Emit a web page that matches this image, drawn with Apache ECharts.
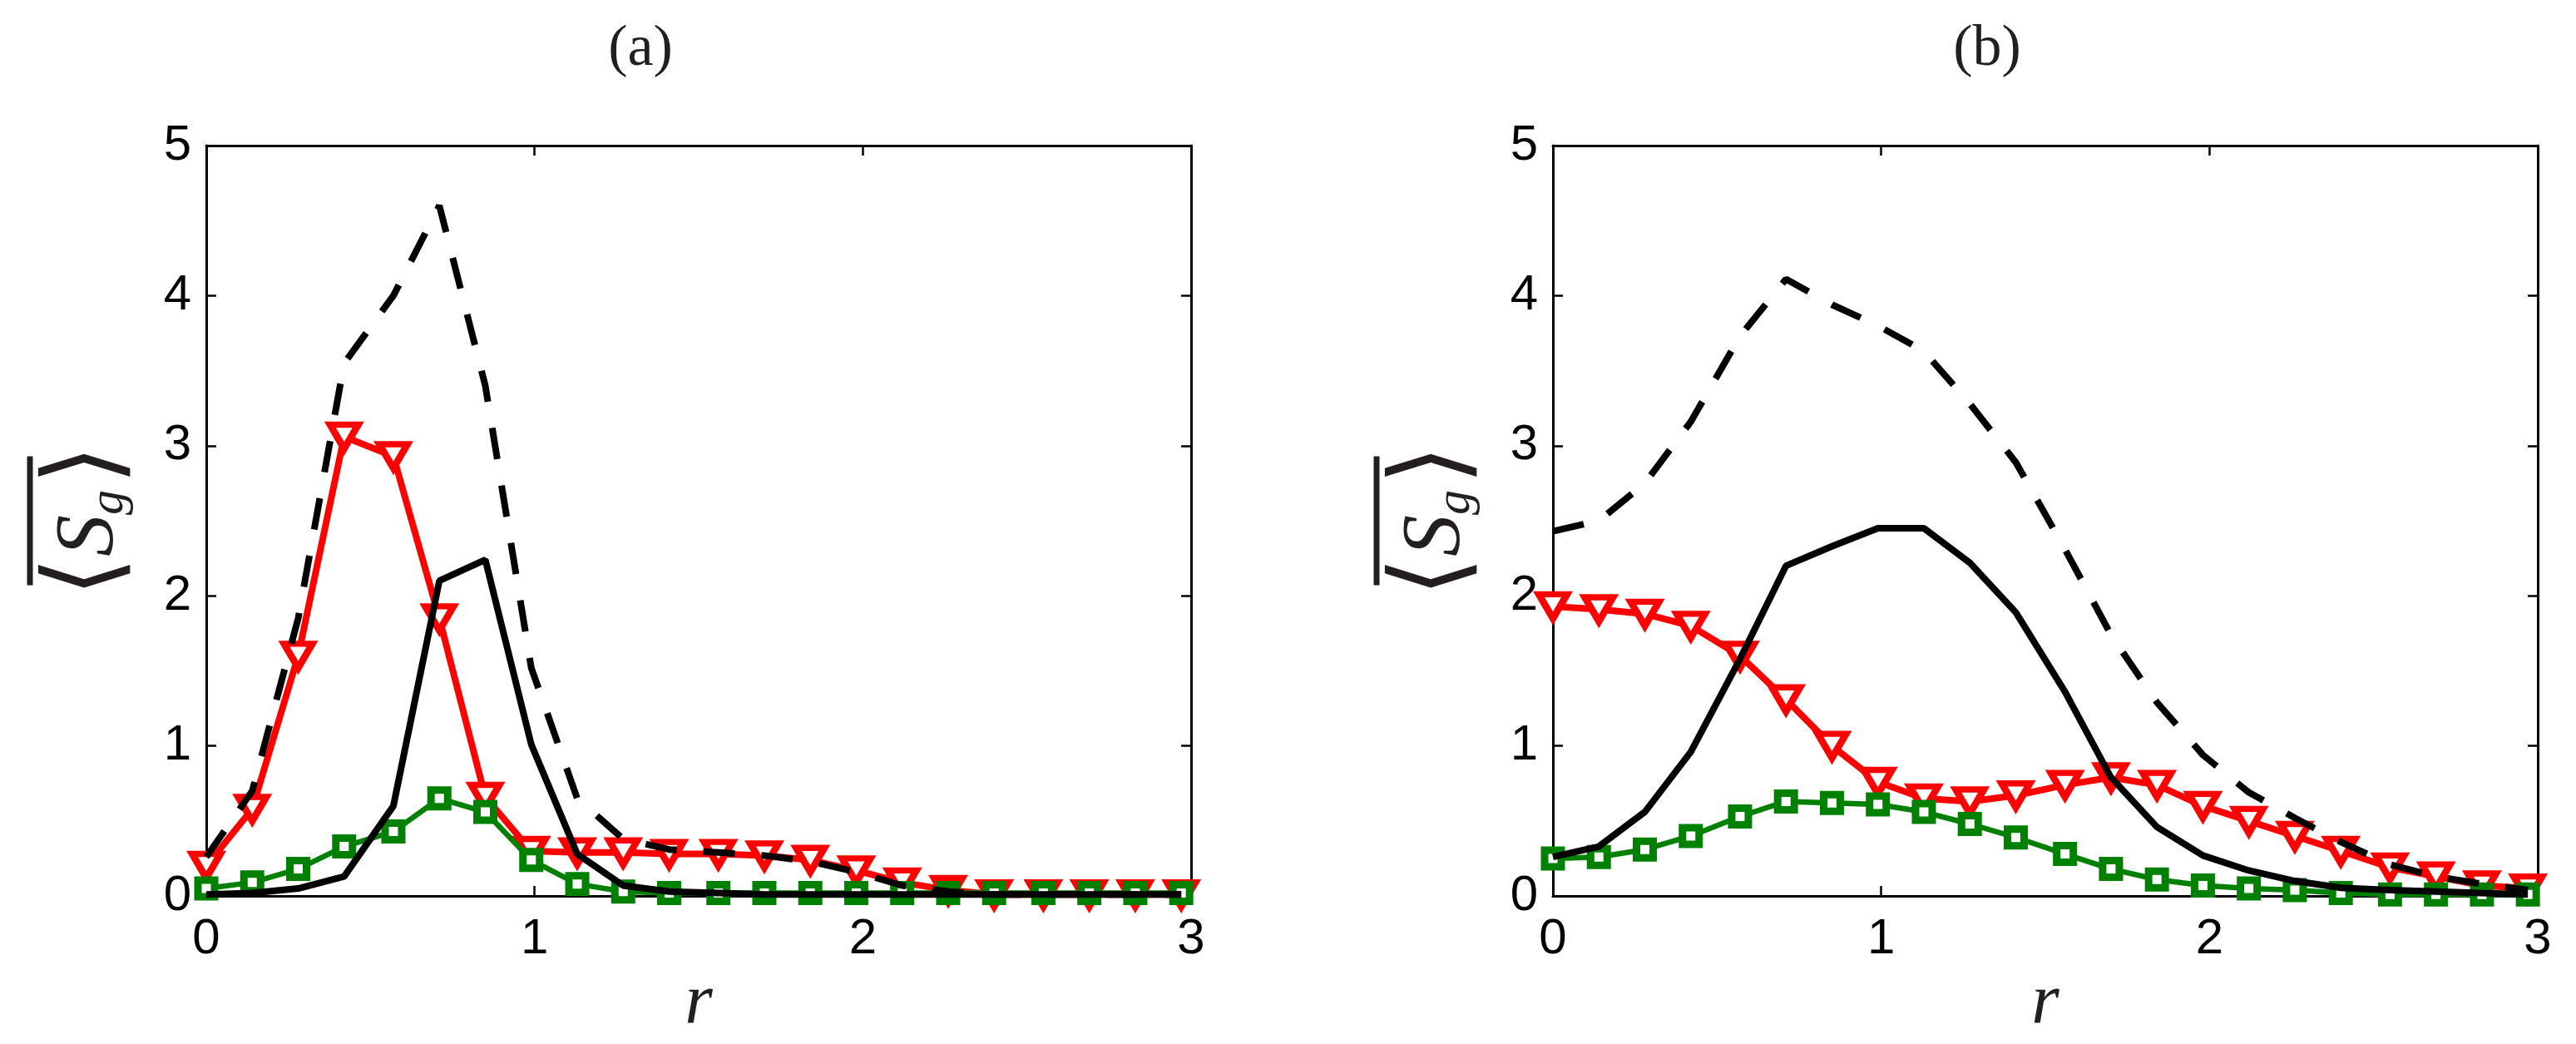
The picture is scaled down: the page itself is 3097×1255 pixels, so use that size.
<!DOCTYPE html>
<html>
<head>
<meta charset="utf-8">
<title>Sg profiles</title>
<script src="https://cdn.jsdelivr.net/npm/echarts/dist/echarts.min.js"></script>
<style>
    html, body { margin: 0; padding: 0; background: #fff; }
    #main { width: 3097px; height: 1255px; }
</style>
</head>
<body>
<div id="main"></div>
<script>
    // r 网格点（两幅图共用）
    const rValues = [0, 0.14, 0.28, 0.42, 0.57, 0.71, 0.85, 0.99, 1.13, 1.27, 1.41,
                     1.56, 1.70, 1.84, 1.98, 2.12, 2.26, 2.40, 2.55, 2.69, 2.83, 2.97];

    // 坐标轴刻度
    const xTicks = [0, 1, 2, 3];
    const yTicks = [0, 1, 2, 3, 4, 5];
    const panelTitles = ['(a)', '(b)'];

    // (a) 图数据
    const redA = [0.20, 0.58, 1.60, 3.06, 2.93, 1.85, 0.66, 0.30, 0.29, 0.29, 0.28,
                  0.28, 0.27, 0.24, 0.17, 0.09, 0.04, 0.01, 0.01, 0.01, 0.01, 0.01];
    const greenA = [0.05, 0.09, 0.18, 0.33, 0.43, 0.65, 0.56, 0.24, 0.08, 0.03, 0.02,
                    0.02, 0.02, 0.02, 0.02, 0.02, 0.02, 0.02, 0.02, 0.02, 0.02, 0.02];
    const solidA = [0.01, 0.02, 0.05, 0.13, 0.60, 2.10, 2.24, 1.01, 0.28, 0.07, 0.03,
                    0.02, 0.01, 0.01, 0.01, 0.01, 0.01, 0.01, 0.01, 0.01, 0.01, 0.01];
    const dashA = [0.26, 0.70, 1.85, 3.55, 4.00, 4.60, 3.40, 1.52, 0.65, 0.38, 0.31,
                   0.29, 0.27, 0.23, 0.16, 0.07, 0.03, 0.01, 0.01, 0.01, 0.01, 0.01];

    // (b) 图数据
    const redB = [1.93, 1.91, 1.88, 1.80, 1.60, 1.31, 1.00, 0.76, 0.65, 0.63, 0.67,
                  0.74, 0.79, 0.74, 0.60, 0.50, 0.40, 0.30, 0.19, 0.13, 0.07, 0.05];
    const greenB = [0.25, 0.26, 0.31, 0.40, 0.53, 0.63, 0.62, 0.61, 0.56, 0.48, 0.39,
                    0.28, 0.18, 0.11, 0.07, 0.05, 0.04, 0.02, 0.01, 0.01, 0.01, 0.01];
    const solidB = [0.26, 0.33, 0.56, 0.96, 1.58, 2.20, 2.33, 2.45, 2.45, 2.22, 1.89,
                    1.36, 0.79, 0.46, 0.27, 0.17, 0.10, 0.055, 0.04, 0.03, 0.02, 0.01];
    const dashB = [2.43, 2.50, 2.75, 3.16, 3.73, 4.11, 3.94, 3.80, 3.63, 3.28, 2.89,
                   2.31, 1.74, 1.29, 0.94, 0.69, 0.52, 0.36, 0.21, 0.13, 0.08, 0.04];

    const panels = [
        { red: redA, green: greenA, solid: solidA, dash: dashA },
        { red: redB, green: greenB, solid: solidB, dash: dashB }
    ];

    const gridLefts = [248, 1867];
    const titleX = [770, 2389];

    var myChart = echarts.init(document.getElementById('main'));

    const toPairs = (ys) => rValues.map((r, i) => [r, ys[i]]);

    const tickStyle = { show: true, inside: true, length: 12, lineStyle: { color: '#000', width: 2.5 } };
    const lineAxis = { show: true, onZero: false, lineStyle: { color: '#000', width: 3 } };
    const labelFont = { fontFamily: '"Liberation Sans", Arial', fontSize: 60, color: '#000' };

    let grids = [], xAxes = [], yAxes = [], series = [], graphics = [];

    panels.forEach((p, k) => {
        grids.push({ left: gridLefts[k], top: 175, width: 1184, height: 905 });

        // 下/上 x 轴
        xAxes.push({
            type: 'value', gridIndex: k, position: 'bottom',
            min: xTicks[0], max: xTicks[xTicks.length - 1], interval: 1,
            axisLine: lineAxis, axisTick: tickStyle, splitLine: { show: false },
            axisLabel: Object.assign({ margin: 22 }, labelFont),
            name: 'r', nameLocation: 'middle', nameGap: 84,
            nameTextStyle: { fontFamily: '"Liberation Serif"', fontStyle: 'italic', fontSize: 86, color: '#231f20' }
        });
        xAxes.push({
            type: 'value', gridIndex: k, position: 'top',
            min: xTicks[0], max: xTicks[xTicks.length - 1], interval: 1,
            axisLine: lineAxis, axisTick: tickStyle, splitLine: { show: false },
            axisLabel: { show: false }
        });

        // 左/右 y 轴
        yAxes.push({
            type: 'value', gridIndex: k, position: 'left',
            min: yTicks[0], max: yTicks[yTicks.length - 1], interval: 1,
            axisLine: lineAxis, axisTick: tickStyle, splitLine: { show: false },
            axisLabel: Object.assign({ margin: 18 }, labelFont),
            name: '{bar|}\n{lb|⟨}{s|S}{g|g}{rb|⟩}',
            nameLocation: 'middle', nameGap: 78, nameRotate: 90,
            nameTextStyle: {
                color: '#231f20',
                rich: {
                    bar: { width: 155, height: 7, backgroundColor: '#231f20', lineHeight: 20 },
                    lb: { fontFamily: '"DejaVu Sans"', fontSize: 124, color: '#231f20', lineHeight: 124 },
                    rb: { fontFamily: '"DejaVu Sans"', fontSize: 124, color: '#231f20', lineHeight: 124 },
                    s: { fontFamily: '"Liberation Serif"', fontStyle: 'italic', fontSize: 100, color: '#231f20' },
                    g: { fontFamily: '"Liberation Serif"', fontStyle: 'italic', fontSize: 60, color: '#231f20',
                         padding: [46, 6, 0, 0] }
                }
            }
        });
        yAxes.push({
            type: 'value', gridIndex: k, position: 'right',
            min: yTicks[0], max: yTicks[yTicks.length - 1], interval: 1,
            axisLine: lineAxis, axisTick: tickStyle, splitLine: { show: false },
            axisLabel: { show: false }
        });

        const xi = k * 2, yi = k * 2;

        // 红色三角
        series.push({
            type: 'line', xAxisIndex: xi, yAxisIndex: yi, data: toPairs(p.red),
            symbol: 'triangle', symbolRotate: 180, symbolSize: [34, 29],
            itemStyle: { color: '#fff', borderColor: '#ff0000', borderWidth: 8, borderJoin: 'miter' },
            lineStyle: { color: '#ff0000', width: 8 }, z: 2
        });
        // 绿色方块
        series.push({
            type: 'line', xAxisIndex: xi, yAxisIndex: yi, data: toPairs(p.green),
            symbol: 'rect', symbolSize: 20,
            itemStyle: { color: '#fff', borderColor: '#008000', borderWidth: 9, borderJoin: 'miter' },
            lineStyle: { color: '#008000', width: 6.5 }, z: 3
        });
        // 黑色实线
        series.push({
            type: 'line', xAxisIndex: xi, yAxisIndex: yi, data: toPairs(p.solid),
            symbol: 'none', lineStyle: { color: '#000', width: 8 }, z: 4
        });
        // 黑色虚线
        series.push({
            type: 'line', xAxisIndex: xi, yAxisIndex: yi, data: toPairs(p.dash),
            symbol: 'none', lineStyle: { color: '#000', width: 8, type: [38, 32], cap: 'butt' }, z: 5
        });

        graphics.push({
            type: 'text', x: titleX[k], y: 60,
            style: { text: panelTitles[k], font: '70px "Liberation Serif"', fill: '#231f20',
                     align: 'center', verticalAlign: 'middle' }
        });
    });

    let option = {
        animation: false,
        backgroundColor: '#fff',
        grid: grids,
        xAxis: xAxes,
        yAxis: yAxes,
        series: series,
        graphic: graphics
    };
    myChart.setOption(option);
</script>
</body>
</html>
